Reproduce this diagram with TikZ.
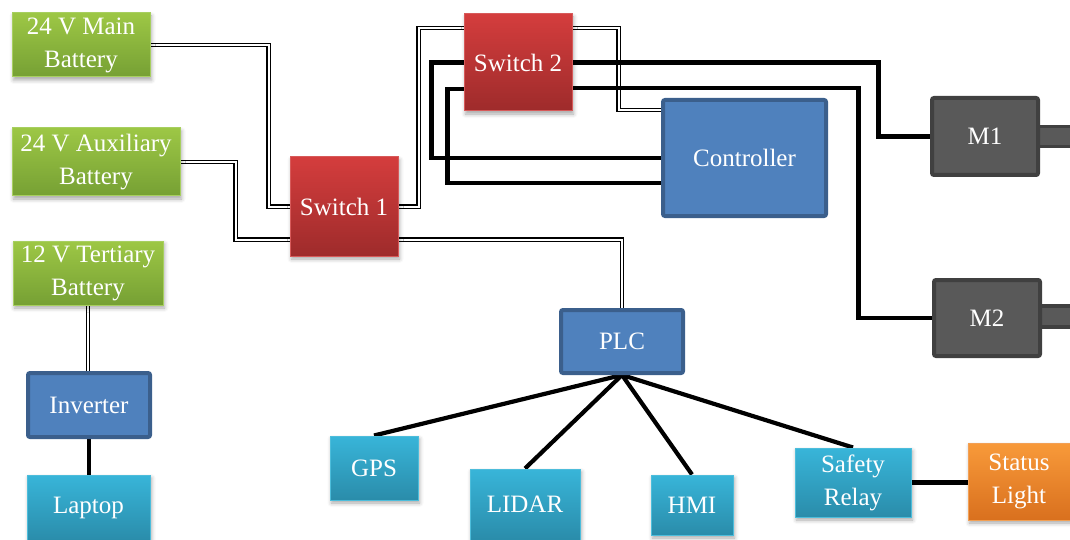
\documentclass[tikz,border=0pt]{standalone}
\usepackage{fontspec}
\setmainfont{Liberation Serif}
\usetikzlibrary{shadows.blur,backgrounds}

\definecolor{grnT}{HTML}{9DC745}
\definecolor{grnB}{HTML}{76A034}
\definecolor{grnE}{HTML}{A7CF60}
\definecolor{redT}{HTML}{D43D3D}
\definecolor{redB}{HTML}{9E2B2B}
\definecolor{redE}{HTML}{D75A5A}
\definecolor{cyaT}{HTML}{38B5D9}
\definecolor{cyaB}{HTML}{2A8CAA}
\definecolor{cyaE}{HTML}{4DBDDB}
\definecolor{orT}{HTML}{F89A3A}
\definecolor{orB}{HTML}{D9701E}
\definecolor{orE}{HTML}{F2A055}
\definecolor{bluF}{HTML}{4F81BD}
\definecolor{bluE}{HTML}{3B5F8C}
\definecolor{gryF}{HTML}{595959}
\definecolor{gryE}{HTML}{404040}

\begin{document}
\begin{tikzpicture}[x=1pt,y=-1pt,
  box/.style={inner sep=0pt, text=white, align=center,
    font=\fontsize{25}{33}\selectfont},
  soft/.style={blur shadow={shadow xshift=1.5pt, shadow yshift=-3pt,
    shadow blur radius=4pt, shadow opacity=35}},
  greenbox/.style={box, soft, top color=grnT, bottom color=grnB, draw=grnE, line width=1pt},
  redbox/.style={box, soft, top color=redT, bottom color=redB, draw=redE, line width=1pt},
  cyanbox/.style={box, soft, top color=cyaT, bottom color=cyaB, draw=cyaE, line width=1pt},
  orangebox/.style={box, soft, top color=orT, bottom color=orB, draw=orE, line width=1pt},
  bluebox/.style={box, fill=bluF, draw=bluE, line width=4pt, rounded corners=2pt},
  motor/.style={box, fill=gryF, draw=gryE, line width=4pt, rounded corners=2pt},
  shaft/.style={fill=gryF, draw=gryE, line width=3.5pt},
  dbl/.style={draw=black, line width=1.2pt, double=white, double distance=2pt},
  thk/.style={draw=black, line width=4.2pt},
]
\useasboundingbox (0,0) rectangle (1070,540);

% power sources
\node[greenbox, minimum width=138pt, minimum height=64pt] (main) at (81,45) {24 V Main\\Battery};
\node[greenbox, minimum width=168pt, minimum height=68pt] (aux) at (96,162) {24 V Auxiliary\\Battery};
\node[greenbox, minimum width=150pt, minimum height=64pt] (tert) at (88,273) {12 V Tertiary\\Battery};

% inverter branch
\node[bluebox, minimum width=122pt, minimum height=64pt] (inv) at (89,405) {Inverter};
\node[cyanbox, minimum width=123pt, minimum height=66pt] (laptop) at (88.5,508) {Laptop};

% switching
\node[redbox, minimum width=108pt, minimum height=99pt] (sw1) at (344,206.5) {Switch 1};
\node[redbox, minimum width=108pt, minimum height=97pt] (sw2) at (518,62.5) {Switch 2};

% control
\node[bluebox, minimum width=163pt, minimum height=116pt] (ctrl) at (744.5,158) {Controller};
\node[bluebox, minimum width=122pt, minimum height=63pt] (plc) at (622,341.5) {PLC};

% motors with shafts
\draw[shaft] (1038,126.5) rectangle (1080,146.5);
\draw[shaft] (1040,306) rectangle (1080,327);
\node[motor, minimum width=106pt, minimum height=77pt] (m1) at (985,136.5) {M1};
\node[motor, minimum width=106pt, minimum height=76pt] (m2) at (987,318) {M2};

% peripherals
\node[cyanbox, minimum width=88pt, minimum height=64pt] (gps) at (374,468) {GPS};
\node[cyanbox, minimum width=110pt, minimum height=71pt] (lidar) at (525,504.5) {LIDAR};
\node[cyanbox, minimum width=82pt, minimum height=60pt] (hmi) at (692,505) {HMI};
\node[cyanbox, minimum width=116pt, minimum height=69pt] (relay) at (853,482.5) {Safety\\Relay};
\node[orangebox, minimum width=102pt, minimum height=77pt] (light) at (1019,481.5) {Status\\Light};

\begin{pgfonlayer}{background}
  % power wiring
  \draw[dbl] (main.east) -- ++(118,0) |- (sw1.west);
  \draw[dbl] (aux.east) -- ++(55,0) |- ([yshift=-33pt]sw1.west);
  \draw[dbl] (sw1.east) -- ++(20,0) |- ([yshift=34.5pt]sw2.west);
  \draw[dbl] ([yshift=34.5pt]sw2.east) -- ++(46,0) |- ([yshift=48pt]ctrl.west);
  \draw[dbl] ([yshift=-33pt]sw1.east) -| (plc.north);
  \draw[dbl] (tert.south) -- (tert.south |- inv.north);

  % signal and motor wiring
  \draw[thk] (sw2.west) -- ++(-32,0) |- (ctrl.west);
  \draw[thk] ([yshift=-26.5pt]sw2.west) -- ++(-16,0) |- ([yshift=-25pt]ctrl.west);
  \draw[thk] (sw2.east) -- ++(306,0) |- (m1.west);
  \draw[thk] ([yshift=-25.5pt]sw2.east) -- ++(286,0) |- (m2.west);
  \draw[thk] (inv.south) -- (inv.south |- laptop.north);
  \foreach \t in {gps,lidar,hmi,relay}
    \draw[thk] (plc.south) -- (\t.north);
  \draw[thk] (relay.east) -- (relay.east -| light.west);
\end{pgfonlayer}
\end{tikzpicture}
\end{document}
